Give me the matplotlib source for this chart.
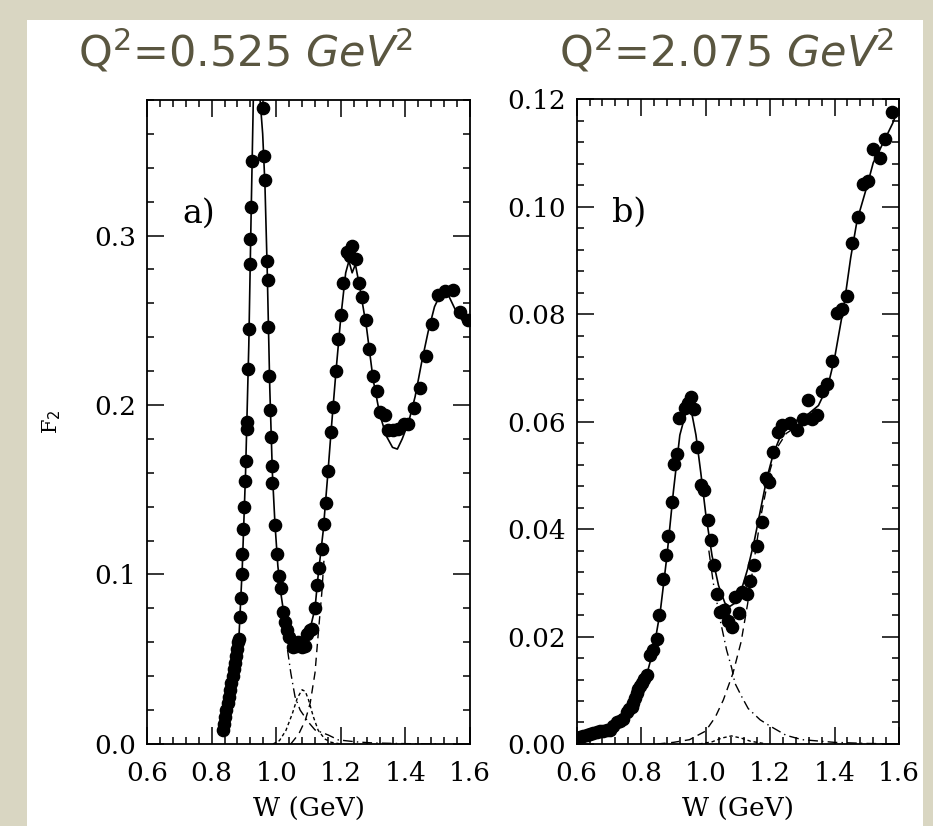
import matplotlib
matplotlib.use("Agg")
import matplotlib.pyplot as plt
from matplotlib.ticker import MultipleLocator, FormatStrFormatter

# ---- panel a) Q^2 = 0.525 GeV^2 : data ----
w_a = [0.836, 0.839, 0.842, 0.846, 0.850, 0.853, 0.857, 0.861, 0.865, 0.869,
       0.872, 0.876, 0.879, 0.882, 0.885, 0.888, 0.891, 0.893, 0.895, 0.898,
       0.900, 0.903, 0.905, 0.909, 0.910, 0.914, 0.917, 0.918, 0.920, 0.922,
       0.925,
       0.958, 0.962, 0.965, 0.971, 0.973, 0.976, 0.979, 0.981, 0.983, 0.986,
       0.988, 0.996, 1.003, 1.010, 1.015, 1.022, 1.027, 1.033, 1.041, 1.051,
       1.060, 1.068, 1.079, 1.089, 1.096, 1.104, 1.110, 1.120, 1.127, 1.133,
       1.141, 1.148, 1.154, 1.161, 1.169, 1.177, 1.185, 1.192, 1.200, 1.208,
       1.218, 1.228, 1.236, 1.247, 1.256, 1.265, 1.277, 1.287, 1.299, 1.311,
       1.321, 1.337, 1.347, 1.363, 1.378, 1.394, 1.409, 1.428, 1.445, 1.463,
       1.481, 1.502, 1.523, 1.546, 1.569, 1.595]
f2_a = [0.008, 0.012, 0.016, 0.020, 0.024, 0.028, 0.032, 0.036, 0.040, 0.044,
        0.048, 0.052, 0.056, 0.060, 0.062, 0.075, 0.086, 0.100, 0.112, 0.127,
        0.140, 0.155, 0.167, 0.186, 0.190, 0.221, 0.245, 0.283, 0.298, 0.317,
        0.344,
        0.375, 0.347, 0.333, 0.285, 0.274, 0.246, 0.217, 0.197, 0.181, 0.164,
        0.154, 0.129, 0.112, 0.099, 0.092, 0.078, 0.072, 0.067, 0.063, 0.057,
        0.058, 0.060, 0.057, 0.058, 0.065, 0.067, 0.068, 0.080, 0.094, 0.104,
        0.115, 0.130, 0.142, 0.161, 0.184, 0.199, 0.220, 0.239, 0.253, 0.272,
        0.290, 0.288, 0.294, 0.286, 0.272, 0.264, 0.250, 0.233, 0.217, 0.208,
        0.196, 0.194, 0.185, 0.185, 0.186, 0.189, 0.189, 0.198, 0.210, 0.229,
        0.248, 0.265, 0.267, 0.268, 0.255, 0.250]

# fit curve and components, panel a
fit_w_a = [0.835, 0.850, 0.870, 0.885, 0.895, 0.905, 0.915, 0.922, 0.929, 0.940,
           0.950, 0.958, 0.965, 0.972, 0.980, 0.988, 0.996, 1.005, 1.015, 1.025,
           1.035, 1.045, 1.060, 1.075, 1.090, 1.105, 1.120, 1.130, 1.145, 1.160,
           1.170, 1.185, 1.200, 1.215, 1.225, 1.235, 1.245, 1.260, 1.280, 1.300,
           1.320, 1.340, 1.360, 1.375, 1.390, 1.410, 1.430, 1.450, 1.470, 1.490,
           1.510, 1.525, 1.540, 1.560, 1.580, 1.600]
fit_f_a = [0.008, 0.020, 0.045, 0.065, 0.105, 0.160, 0.235, 0.310, 0.380, 0.450,
           0.380, 0.360, 0.330, 0.280, 0.210, 0.160, 0.130, 0.105, 0.088, 0.075,
           0.065, 0.060, 0.058, 0.058, 0.062, 0.068, 0.080, 0.100, 0.125, 0.160,
           0.185, 0.220, 0.252, 0.278, 0.285, 0.278, 0.283, 0.268, 0.245, 0.215,
           0.195, 0.182, 0.175, 0.174, 0.180, 0.190, 0.205, 0.225, 0.243, 0.258,
           0.266, 0.268, 0.262, 0.254, 0.249, 0.249]
rise_w_a = [1.045, 1.070, 1.090, 1.105, 1.120, 1.130, 1.141, 1.150]
rise_f_a = [0.000, 0.006, 0.014, 0.024, 0.042, 0.065, 0.089, 0.115]
fall_w_a = [1.035, 1.045, 1.058, 1.074, 1.099, 1.120, 1.161, 1.192, 1.250,
            1.300, 1.400, 1.500]
fall_f_a = [0.0555, 0.042, 0.028, 0.020, 0.013, 0.0083, 0.0053, 0.0024, 0.0012,
            0.0006, 0.0002, 0.0]
bump_w_a = [0.99, 1.01, 1.03, 1.05, 1.065, 1.08, 1.09, 1.10, 1.115, 1.13, 1.15,
            1.17, 1.20]
bump_f_a = [0.0, 0.002, 0.008, 0.018, 0.027, 0.032, 0.031, 0.026, 0.016, 0.008,
            0.003, 0.001, 0.0]

# ---- panel b) Q^2 = 2.075 GeV^2 : data ----
w_b = [0.600, 0.610, 0.621, 0.632, 0.642, 0.652, 0.662, 0.672, 0.683, 0.693,
       0.703, 0.714, 0.724, 0.735, 0.745, 0.755, 0.763, 0.771, 0.776, 0.781,
       0.786, 0.791, 0.797, 0.802, 0.810, 0.817, 0.827, 0.836, 0.848, 0.855,
       0.867, 0.876, 0.884, 0.895, 0.903, 0.910, 0.918, 0.936, 0.944, 0.955,
       0.965, 0.972, 0.985, 0.995, 1.008, 1.016, 1.026, 1.036, 1.045, 1.057,
       1.070, 1.081, 1.091, 1.105, 1.112, 1.127, 1.138, 1.150, 1.160, 1.174,
       1.187, 1.198, 1.210, 1.226, 1.236, 1.262, 1.283, 1.303, 1.319, 1.329,
       1.347, 1.360, 1.376, 1.391, 1.407, 1.422, 1.438, 1.453, 1.472, 1.489,
       1.505, 1.520, 1.541, 1.557, 1.579]
f2_b = [0.0011, 0.0013, 0.0015, 0.0017, 0.0019, 0.0021, 0.0023, 0.0024, 0.0025, 0.0026,
        0.0026, 0.0033, 0.0040, 0.0043, 0.0047, 0.0060, 0.0065, 0.0069, 0.0077, 0.0085,
        0.0094, 0.0102, 0.0108, 0.0113, 0.0121, 0.0128, 0.0166, 0.0174, 0.0195, 0.0240,
        0.0307, 0.0352, 0.0387, 0.0451, 0.0522, 0.0540, 0.0606, 0.0625, 0.0634, 0.0646,
        0.0623, 0.0553, 0.0482, 0.0473, 0.0417, 0.0380, 0.0333, 0.0280, 0.0246, 0.0249,
        0.0228, 0.0218, 0.0274, 0.0244, 0.0282, 0.0280, 0.0304, 0.0333, 0.0369, 0.0414,
        0.0495, 0.0487, 0.0544, 0.0581, 0.0594, 0.0597, 0.0584, 0.0604, 0.0640, 0.0604,
        0.0612, 0.0657, 0.0670, 0.0713, 0.0802, 0.0809, 0.0833, 0.0932, 0.0981, 0.1042,
        0.1047, 0.1107, 0.1090, 0.1126, 0.1177]

fit_w_b = [0.60, 0.65, 0.70, 0.75, 0.78, 0.80, 0.82, 0.84, 0.86, 0.88, 0.90, 0.92,
           0.94, 0.955, 0.97, 0.985, 1.00, 1.02, 1.04, 1.06, 1.075, 1.09, 1.11,
           1.13, 1.15, 1.17, 1.19, 1.21, 1.23, 1.26, 1.29, 1.32, 1.35, 1.38, 1.40,
           1.43, 1.45, 1.47, 1.50, 1.52, 1.55, 1.58, 1.60]
fit_f_b = [0.0010, 0.0018, 0.0028, 0.0050, 0.0075, 0.0100, 0.0135, 0.0180, 0.0250,
           0.0350, 0.0470, 0.0575, 0.0620, 0.0622, 0.0575, 0.0505, 0.0430, 0.0350,
           0.0295, 0.0262, 0.0256, 0.0262, 0.0285, 0.0325, 0.0375, 0.0435, 0.0495,
           0.0540, 0.0570, 0.0595, 0.0605, 0.0615, 0.0630, 0.0668, 0.0718, 0.0820,
           0.0905, 0.0975, 0.1037, 0.1082, 0.1118, 0.1155, 0.1185]
rise_w_b = [0.85, 0.90, 0.95, 1.00, 1.03, 1.055, 1.085, 1.11, 1.13, 1.15, 1.17,
            1.20, 1.22, 1.25, 1.28, 1.30]
rise_f_b = [0.0, 0.0003, 0.0008, 0.0024, 0.0050, 0.0082, 0.0132, 0.0190, 0.0260,
            0.0340, 0.0420, 0.0510, 0.0550, 0.0578, 0.0590, 0.0597]
fall_w_b = [1.01, 1.024, 1.045, 1.065, 1.081, 1.091, 1.112, 1.132, 1.169, 1.198,
            1.25, 1.30, 1.40, 1.50, 1.60]
fall_f_b = [0.036, 0.0299, 0.0231, 0.0175, 0.0141, 0.0113, 0.0088, 0.0066, 0.0045,
            0.0034, 0.0016, 0.0008, 0.0003, 0.0001, 0.0]
bump_w_b = [0.98, 1.02, 1.05, 1.08, 1.11, 1.14, 1.18]
bump_f_b = [0.0, 0.0004, 0.0011, 0.0015, 0.0011, 0.0005, 0.0001]

titles = [r"Q$^2$=0.525 $\it{GeV}$$^2$", r"Q$^2$=2.075 $\it{GeV}$$^2$"]
tags = ["a)", "b)"]

fig = plt.figure(figsize=(9.33, 8.26), dpi=100)
fig.patch.set_facecolor("#d9d6c2")
# white slide panel behind the plots
bg = fig.add_axes([0.029, 0.0, 0.960, 0.976], zorder=-10)
bg.set_facecolor("white")
bg.set_xticks([])
bg.set_yticks([])
for sp in bg.spines.values():
    sp.set_visible(False)

serif = "DejaVu Serif"
ax_a = fig.add_axes([0.1576, 0.0993, 0.3462, 0.7797])
ax_b = fig.add_axes([0.6181, 0.0993, 0.3455, 0.7805])

panels = [
    (ax_a, w_a, f2_a, fit_w_a, fit_f_a, rise_w_a, rise_f_a, fall_w_a, fall_f_a,
     bump_w_a, bump_f_a, 0.38, 0.1, 0.02, "%.1f"),
    (ax_b, w_b, f2_b, fit_w_b, fit_f_b, rise_w_b, rise_f_b, fall_w_b, fall_f_b,
     bump_w_b, bump_f_b, 0.12, 0.02, 0.004, "%.2f"),
]

for i, (ax, w, f, fw, ff, rw, rf, dw, df, bw, bf, ymax, ymaj, ymin, fmt) in enumerate(panels):
    ax.set_facecolor("none")
    ax.plot(fw, ff, color="black", lw=1.2, zorder=3)
    ax.plot(rw, rf, color="black", lw=1.0, linestyle=(0, (6, 4)), zorder=2)
    ax.plot(dw, df, color="black", lw=1.0, linestyle=(0, (7, 3, 1, 3)), zorder=2)
    ax.plot(bw, bf, color="black", lw=1.0, linestyle=(0, (2.5, 2)), zorder=2)
    ax.plot(w, f, "o", color="black", markersize=8.8, zorder=4)

    ax.set_xlim(0.6, 1.6)
    ax.set_ylim(0, ymax)
    ax.xaxis.set_major_locator(MultipleLocator(0.2))
    ax.xaxis.set_minor_locator(MultipleLocator(0.04))
    ax.yaxis.set_major_locator(MultipleLocator(ymaj))
    ax.yaxis.set_minor_locator(MultipleLocator(ymin))
    ax.xaxis.set_major_formatter(FormatStrFormatter("%.1f"))
    ax.yaxis.set_major_formatter(FormatStrFormatter(fmt))
    ax.tick_params(which="both", direction="in", top=True, right=True,
                   width=1.1, labelsize=19)
    ax.tick_params(which="major", length=12)
    ax.tick_params(which="minor", length=5)
    ax.tick_params(axis="x", pad=12)
    ax.tick_params(axis="y", pad=8)
    for lab in ax.get_xticklabels() + ax.get_yticklabels():
        lab.set_family(serif)
    for sp in ax.spines.values():
        sp.set_linewidth(1.3)
    ax.set_xlabel("W (GeV)", family=serif, fontsize=19, labelpad=8)
    ax.text(0.11, 0.81, tags[i], transform=ax.transAxes, family=serif,
            fontsize=24)

ax_a.set_ylabel(r"F$_2$", family=serif, fontsize=15, labelpad=22)

fig.text(0.263, 0.937, titles[0], ha="center", va="center", fontsize=31,
         color="#5a5640")
fig.text(0.779, 0.937, titles[1], ha="center", va="center", fontsize=31,
         color="#5a5640")

fig.savefig("out.png", dpi=100, facecolor=fig.get_facecolor())
